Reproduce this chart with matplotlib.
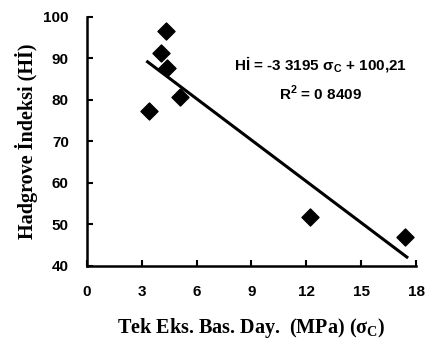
import matplotlib
matplotlib.use("Agg")
import matplotlib.pyplot as plt
import numpy as np

# data
sigma_c = [3.39, 4.05, 4.30, 4.36, 5.09, 12.2, 17.4]
hgi = [77.4, 91.4, 96.7, 87.8, 80.8, 51.9, 46.9]

slope = -3.3195
intercept = 100.21
fit_x = [3.32, 17.5]

x_ticks = [0, 3, 6, 9, 12, 15, 18]
y_ticks = [40, 50, 60, 70, 80, 90, 100]

fig = plt.figure(figsize=(4.28, 3.40), dpi=100)
ax = fig.add_axes([0.203, 0.218, 0.769, 0.732])

ax.scatter(sigma_c, hgi, marker="D", s=75, color="black", zorder=3)
fx = np.array(fit_x)
ax.plot(fx, slope * fx + intercept, color="black", lw=2.2)

ax.set_xlim(0, 18)
ax.set_ylim(40, 100)
ax.set_xticks(x_ticks)
ax.set_yticks(y_ticks)

for s in ["top", "right"]:
    ax.spines[s].set_visible(False)
for s in ["left", "bottom"]:
    ax.spines[s].set_linewidth(1.8)

ax.tick_params(direction="in", length=4, width=1.5)
ax.tick_params(axis="x", pad=14)
ax.tick_params(axis="y", pad=13)
for lab in ax.get_xticklabels() + ax.get_yticklabels():
    lab.set_fontfamily("Liberation Sans")
    lab.set_fontweight("bold")
    lab.set_fontsize(11)

ax.set_xlabel("Tek Eks. Bas. Day.  (MPa) (σ$_\\mathregular{C}$)",
              fontfamily="Liberation Serif", fontweight="bold", fontsize=14.5, labelpad=12)
ax.set_ylabel("Hadgrove İndeksi (Hİ)",
              fontfamily="Liberation Serif", fontweight="bold", fontsize=14.5, labelpad=4)

ax.text(12.75, 88.4, "Hİ = -3 3195 σ$_\\mathregular{C}$ + 100,21", ha="center", va="center",
        fontfamily="Liberation Sans", fontweight="bold", fontsize=11)
ax.text(12.75, 81.7, "R$^\\mathregular{2}$ = 0 8409", ha="center", va="center",
        fontfamily="Liberation Sans", fontweight="bold", fontsize=11)

fig.savefig("out.png", dpi=100)
